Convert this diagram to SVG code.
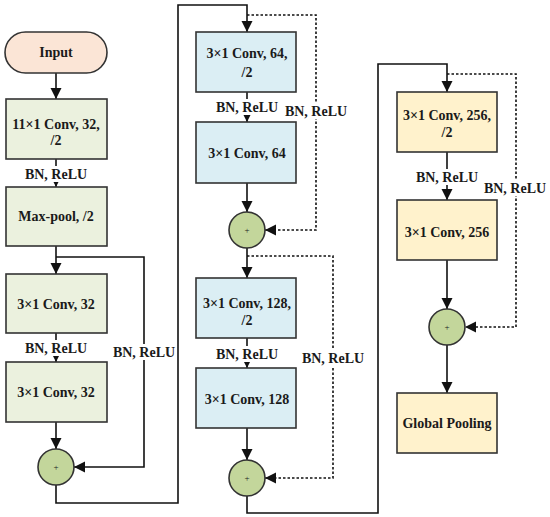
<svg xmlns="http://www.w3.org/2000/svg" width="550" height="517" viewBox="0 0 550 517">
<defs>
<marker id="ah" markerUnits="userSpaceOnUse" markerWidth="12" markerHeight="12" refX="11" refY="6" orient="auto">
<path d="M0,0.5 L11,6 L0,11.5 z" fill="#111"/>
</marker>
<style>
.box{stroke:#333;stroke-width:1.6}
.g{fill:#ebf1de}.b{fill:#dbeef4}.y{fill:#fff2cc}
.t{font-family:"Liberation Serif","Times New Roman",serif;font-weight:bold;font-size:14px;fill:#1a1a1a;text-anchor:middle}
.p{font-family:"Liberation Serif",serif;font-size:9px;fill:#222;text-anchor:middle}
.c{fill:#c3d69b;stroke:#333;stroke-width:1.6}
.ln{fill:none;stroke:#111;stroke-width:1.6}
.dt{fill:none;stroke:#111;stroke-width:1.6;stroke-dasharray:2.5,2}
.bg{fill:#fff}
</style>
</defs>
<rect width="550" height="517" fill="#fff"/>
<g id="connectors">
<path class="ln" d="M56,73 V99" marker-end="url(#ah)"/>
<path class="ln" d="M56,159 V187" marker-end="url(#ah)"/>
<path class="ln" d="M56,246 V274" marker-end="url(#ah)"/>
<path class="ln" d="M56,257 H144 V467 H74" marker-end="url(#ah)"/>
<path class="ln" d="M56,333 V362" marker-end="url(#ah)"/>
<path class="ln" d="M56,422 V449" marker-end="url(#ah)"/>
<path class="ln" d="M56,485 V503 H178 V5 H247 V32" marker-end="url(#ah)"/>
<path class="dt" d="M247,15 H316 V230 H265" marker-end="url(#ah)"/>
<path class="ln" d="M247,92 V122" marker-end="url(#ah)"/>
<path class="ln" d="M247,183 V212" marker-end="url(#ah)"/>
<path class="ln" d="M247,248 V278" marker-end="url(#ah)"/>
<path class="dt" d="M247,256 H333 V478 H265" marker-end="url(#ah)"/>
<path class="ln" d="M247,338 V368" marker-end="url(#ah)"/>
<path class="ln" d="M247,428 V460" marker-end="url(#ah)"/>
<path class="ln" d="M247,496 V513 H378 V64 H447 V92" marker-end="url(#ah)"/>
<path class="dt" d="M447,74 H516 V327 H465" marker-end="url(#ah)"/>
<path class="ln" d="M447,152 V200" marker-end="url(#ah)"/>
<path class="ln" d="M447,260 V309" marker-end="url(#ah)"/>
<path class="ln" d="M447,345 V393" marker-end="url(#ah)"/>
<g id="labels">
<rect class="bg" x="24" y="166" width="64" height="16"/><text class="t" x="56" y="179">BN, ReLU</text>
<rect class="bg" x="24" y="340" width="64" height="16"/><text class="t" x="56" y="353">BN, ReLU</text>
<rect class="bg" x="112" y="344" width="64" height="16"/><text class="t" x="144" y="357">BN, ReLU</text>
<rect class="bg" x="215" y="99" width="64" height="16"/><text class="t" x="247" y="112">BN, ReLU</text>
<rect class="bg" x="284" y="103" width="64" height="16"/><text class="t" x="316" y="116">BN, ReLU</text>
<rect class="bg" x="215" y="346" width="64" height="16"/><text class="t" x="247" y="359">BN, ReLU</text>
<rect class="bg" x="301" y="350" width="64" height="16"/><text class="t" x="333" y="363">BN, ReLU</text>
<rect class="bg" x="415" y="169" width="64" height="16"/><text class="t" x="447" y="182">BN, ReLU</text>
<rect class="bg" x="483" y="180" width="64" height="16"/><text class="t" x="515" y="193">BN, ReLU</text>
</g>
</g>
<g id="input"><rect x="5" y="32" width="102" height="41" rx="20.5" fill="#fbe5d6" stroke="#333" stroke-width="1.6"/><text class="t" x="56" y="57">Input</text></g>
<g id="conv11"><rect class="box g" x="6" y="99" width="101" height="60"/><text class="t" x="56" y="129">11×1 Conv, 32,</text><text class="t" x="56" y="145">/2</text></g>
<g id="maxpool"><rect class="box g" x="6" y="187" width="101" height="59"/><text class="t" x="56" y="221">Max-pool, /2</text></g>
<g id="conv32a"><rect class="box g" x="6" y="274" width="101" height="59"/><text class="t" x="56" y="309">3×1 Conv, 32</text></g>
<g id="conv32b"><rect class="box g" x="6" y="362" width="101" height="60"/><text class="t" x="56" y="397">3×1 Conv, 32</text></g>
<g id="add1"><circle class="c" cx="56" cy="467" r="18"/><text class="p" x="56" y="470">+</text></g>
<g id="conv64a"><rect class="box b" x="196" y="32" width="100" height="60"/><text class="t" x="247" y="58">3×1 Conv, 64,</text><text class="t" x="247" y="77">/2</text></g>
<g id="conv64b"><rect class="box b" x="196" y="122" width="100" height="61"/><text class="t" x="247" y="158">3×1 Conv, 64</text></g>
<g id="add2"><circle class="c" cx="247" cy="230" r="18"/><text class="p" x="247" y="233">+</text></g>
<g id="conv128a"><rect class="box b" x="196" y="278" width="100" height="60"/><text class="t" x="247" y="308">3×1 Conv, 128,</text><text class="t" x="247" y="325">/2</text></g>
<g id="conv128b"><rect class="box b" x="196" y="368" width="100" height="60"/><text class="t" x="247" y="404">3×1 Conv, 128</text></g>
<g id="add3"><circle class="c" cx="247" cy="478" r="18"/><text class="p" x="247" y="481">+</text></g>
<g id="conv256a"><rect class="box y" x="397" y="92" width="100" height="60"/><text class="t" x="447" y="120">3×1 Conv, 256,</text><text class="t" x="447" y="137">/2</text></g>
<g id="conv256b"><rect class="box y" x="397" y="200" width="100" height="60"/><text class="t" x="447" y="237">3×1 Conv, 256</text></g>
<g id="add4"><circle class="c" cx="447" cy="327" r="18"/><text class="p" x="447" y="330">+</text></g>
<g id="gpool"><rect class="box y" x="397" y="393" width="100" height="60"/><text class="t" x="447" y="428">Global Pooling</text></g>
</svg>
